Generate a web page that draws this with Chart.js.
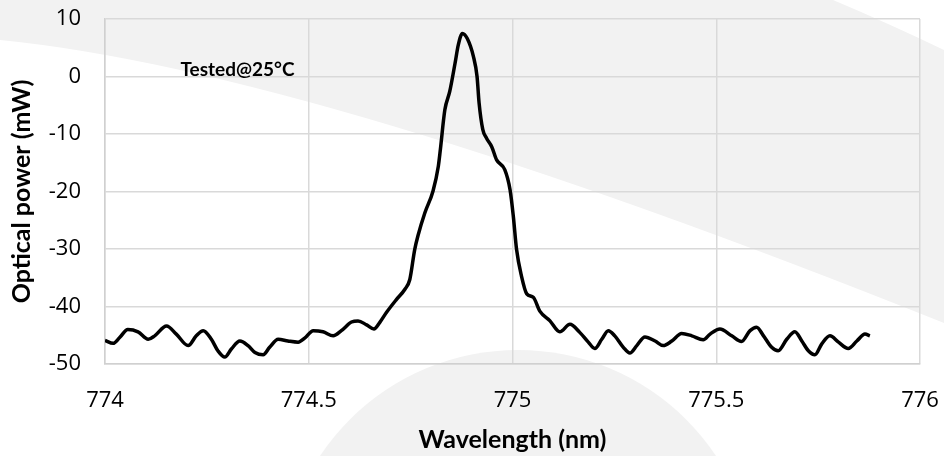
<!DOCTYPE html>
<html>
<head>
<meta charset="utf-8">
<script src="https://cdn.jsdelivr.net/npm/chart.js@4"></script>
<style>
  html, body { margin: 0; padding: 0; background: #ffffff; }
  #wrap { width: 944px; height: 456px; position: relative; }
</style>
</head>
<body>
<div id="wrap"><canvas id="spectrum"></canvas></div>
<script>
// wavelength (nm) and optical power
const wavelength = [
    774.000, 774.020, 774.036, 774.056, 774.081, 774.106, 774.122, 774.151, 774.175, 774.204,
    774.224, 774.241, 774.261, 774.277, 774.294, 774.310, 774.331, 774.351, 774.368, 774.388,
    774.404, 774.425, 774.449, 774.474, 774.490, 774.511, 774.535, 774.560, 774.580, 774.605,
    774.621, 774.642, 774.660, 774.674, 774.691, 774.715, 774.736, 774.748, 774.760, 774.768,
    774.785, 774.805, 774.818, 774.823, 774.834, 774.846, 774.859, 774.867, 774.877, 774.889,
    774.904, 774.913, 774.918, 774.927, 774.936, 774.949, 774.961, 774.981, 774.994, 775.002,
    775.010, 775.022, 775.035, 775.051, 775.067, 775.092, 775.116, 775.141, 775.165, 775.186,
    775.202, 775.219, 775.235, 775.251, 775.272, 775.288, 775.305, 775.325, 775.350, 775.370,
    775.391, 775.415, 775.440, 775.468, 775.485, 775.509, 775.538, 775.562, 775.583, 775.599,
    775.616, 775.636, 775.652, 775.673, 775.693, 775.710, 775.726, 775.742, 775.759, 775.779,
    775.800, 775.824, 775.845, 775.865, 775.877
];
const power = [
    -45.9, -46.4, -45.4, -44.0, -44.4, -45.7, -45.1, -43.4, -44.8, -46.8,
    -45.1, -44.2, -45.7, -47.7, -48.8, -47.4, -46.0, -46.8, -48.0, -48.4,
    -47.1, -45.7, -46.0, -46.2, -45.5, -44.2, -44.4, -45.1, -44.2, -42.7,
    -42.5, -43.2, -43.9, -42.8, -41.0, -38.8, -37.0, -35.3, -30.1, -27.7,
    -23.7, -19.9, -15.6, -12.7, -5.8, -2.6, 2.3, 5.5, 7.5, 6.6,
    3.5, 0.0, -4.6, -9.2, -10.7, -12.2, -14.5, -16.2, -19.7, -24.3,
    -30.1, -34.7, -37.8, -38.4, -40.8, -42.5, -44.4, -43.1, -44.5, -46.2,
    -47.3, -45.7, -44.2, -45.1, -47.1, -48.1, -46.8, -45.3, -46.0, -46.8,
    -46.0, -44.7, -45.1, -45.8, -44.8, -43.9, -45.1, -46.1, -44.2, -43.6,
    -45.1, -47.1, -47.7, -45.7, -44.4, -46.0, -47.7, -48.4, -46.5, -45.1,
    -46.2, -47.3, -46.0, -44.8, -45.1
];
const xTicks = [774, 774.5, 775, 775.5, 776];
const yTicks = [-50, -40, -30, -20, -10, 0, 10];
const note = { text: 'Tested@25°C', x: 774.325, y: 1.2 };

const points = wavelength.map((w, i) => ({ x: w, y: power[i] }));

// light grey watermark shapes behind the plot
const backdrop = {
    id: 'backdrop',
    beforeDraw(chart) {
        const ctx = chart.ctx;
        ctx.save();
        ctx.fillStyle = '#ffffff';
        ctx.fillRect(0, 0, chart.width, chart.height);
        ctx.fillStyle = '#f2f2f2';
        ctx.beginPath();
        ctx.moveTo(0, 0);
        ctx.lineTo(833, 0);
        ctx.quadraticCurveTo(890, 24, 944, 50);
        ctx.lineTo(944, 323);
        ctx.quadraticCurveTo(315, 71, 0, 40);
        ctx.closePath();
        ctx.fill();
        ctx.beginPath();
        ctx.arc(518, 588, 238, 0, Math.PI * 2);
        ctx.fill();
        ctx.restore();
    }
};

const noteLabel = {
    id: 'noteLabel',
    afterDatasetsDraw(chart) {
        const ctx = chart.ctx;
        ctx.save();
        ctx.font = 'bold 19px Lato';
        ctx.fillStyle = '#000000';
        ctx.textAlign = 'center';
        ctx.textBaseline = 'middle';
        ctx.fillText(note.text, chart.scales.x.getPixelForValue(note.x), chart.scales.y.getPixelForValue(note.y));
        ctx.restore();
    }
};

const tickFont = { family: 'Open Sans', size: 22 };
const titleFont = { family: 'Lato', size: 25, weight: 'bold' };

new Chart(document.getElementById('spectrum'), {
    type: 'scatter',
    data: {
        datasets: [{
            data: points,
            showLine: true,
            borderColor: '#000000',
            borderWidth: 3.5,
            pointRadius: 0,
            cubicInterpolationMode: 'monotone'
        }]
    },
    options: {
        responsive: true,
        maintainAspectRatio: false,
        animation: false,
        layout: { padding: { top: 19, right: 24, left: 0, bottom: 0 } },
        plugins: { legend: { display: false }, tooltip: { enabled: false } },
        scales: {
            x: {
                type: 'linear',
                min: 774,
                max: 776,
                afterBuildTicks: s => { s.ticks = xTicks.map(v => ({ value: v })); },
                afterFit: s => { s.height = 92; s.paddingLeft = 0; s.paddingRight = 0; },
                ticks: { font: tickFont, color: '#000000', padding: 24, maxRotation: 0, callback: v => String(v) },
                grid: { color: '#d9d9d9', lineWidth: 1.5, drawTicks: false },
                border: { color: '#d0d0d0', width: 1.5 },
                title: { display: true, text: 'Wavelength (nm)', font: titleFont, color: '#000000', padding: { top: 0, bottom: 1 } }
            },
            y: {
                min: -50,
                max: 10,
                afterBuildTicks: s => { s.ticks = yTicks.map(v => ({ value: v })); },
                afterFit: s => { s.width = 105; s.paddingTop = 0; s.paddingBottom = 0; },
                ticks: { font: tickFont, color: '#000000', padding: 24 },
                grid: { color: '#d9d9d9', lineWidth: 1.5, drawTicks: false },
                border: { color: '#d0d0d0', width: 1.5 },
                title: { display: true, text: 'Optical power (mW)', font: titleFont, color: '#000000', padding: { top: 7, bottom: 0 } }
            }
        }
    },
    plugins: [backdrop, noteLabel]
});
</script>
</body>
</html>
